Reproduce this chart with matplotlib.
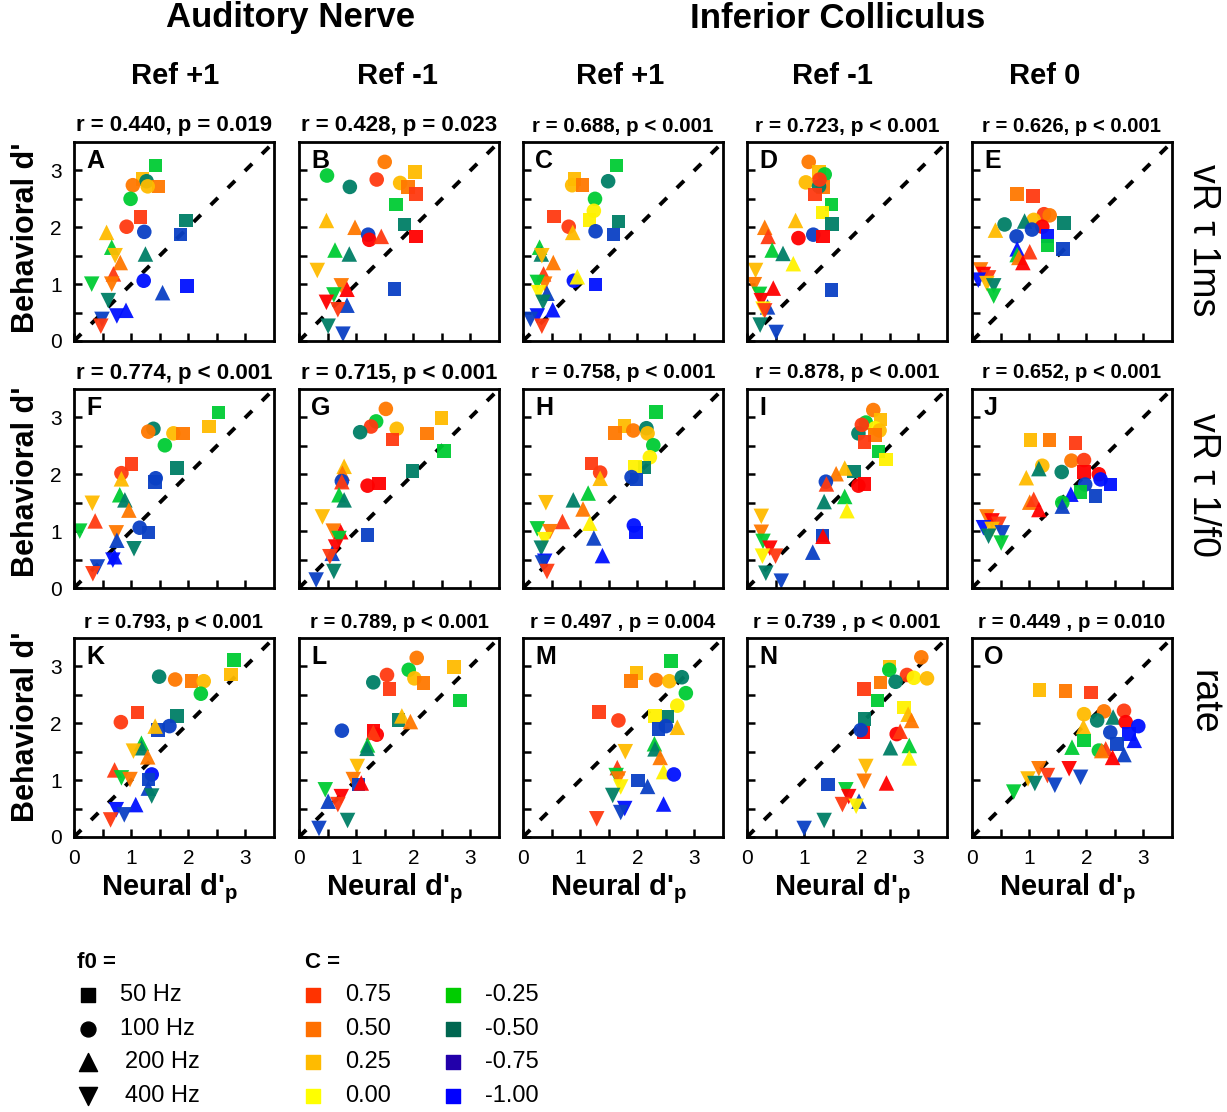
import matplotlib
matplotlib.use("Agg")

import matplotlib.pyplot as plt

plt.rcParams["font.family"] = ["Liberation Sans", "DejaVu Sans"]
plt.rcParams["mathtext.fontset"] = "custom"
plt.rcParams["mathtext.rm"] = "Liberation Sans"
plt.rcParams["mathtext.bf"] = "Liberation Sans:bold"

W, H = 1227, 1112

# colour keys as they appear in the panels
COLORS = {
    "r": "#ff3a10",  # C = 0.75
    "o": "#ff7800",  # 0.50
    "a": "#ffbb00",  # 0.25
    "y": "#fff200",  # 0.00
    "g": "#00cc33",  # -0.25
    "t": "#007f66",  # -0.50
    "d": "#0a40c4",  # -0.75
    "b": "#0010ff",  # -1.00
    "R": "#ff0000",
}
MARKERS = {50: "s", 100: "o", 200: "^", 400: "v"}
SIZES = {50: 95, 100: 110, 200: 125, 400: 125}

F0_LABELS = ["50 Hz", "100 Hz", "200 Hz", "400 Hz"]
C_LABELS = ["0.75", "0.50", "0.25", "0.00", "-0.25", "-0.50", "-0.75", "-1.00"]
C_LEGEND_COLORS = ["#ff3300", "#ff7000", "#ffbb00", "#ffff00",
                   "#00cc00", "#006650", "#2200aa", "#0000ff"]

LETTERS = list("ABCDEFGHIJKLMNO")
STATS = [
    "r = 0.440, p = 0.019", "r = 0.428, p = 0.023", "r = 0.688, p < 0.001",
    "r = 0.723, p < 0.001", "r = 0.626, p < 0.001",
    "r = 0.774, p < 0.001", "r = 0.715, p < 0.001", "r = 0.758, p < 0.001",
    "r = 0.878, p < 0.001", "r = 0.652, p < 0.001",
    "r = 0.793, p < 0.001", "r = 0.789, p < 0.001", "r = 0.497 , p = 0.004",
    "r = 0.739 , p < 0.001", "r = 0.449 , p = 0.010",
]
STAT_SIZES = [16, 16, 14.8, 15, 14.6, 16, 16, 15, 15, 14.6, 14.6, 14.6, 14.7, 14.8, 14.8]
COL_TITLES = ["Ref +1", "Ref -1", "Ref +1", "Ref -1", "Ref 0"]
ROW_TITLES = ["vR \u03c4 1ms", "vR \u03c4 1/f0", "rate"]

# (neural d'p, behavioral d', f0 Hz, colour key)
A_PTS = [(1.43, 3.09, 50, "g"), (1.20, 2.85, 50, "a"), (1.27, 2.81, 100, "t"), (1.48, 2.72, 50, "o"),
         (1.03, 2.74, 100, "o"), (1.29, 2.72, 100, "a"), (0.99, 2.50, 100, "g"), (1.16, 2.18, 50, "r"),
         (0.92, 2.01, 100, "r"), (1.23, 1.92, 100, "d"), (1.96, 2.12, 50, "t"), (1.86, 1.87, 50, "d"),
         (0.57, 1.91, 200, "a"), (0.66, 1.65, 200, "g"), (0.72, 1.50, 400, "a"), (0.81, 1.38, 200, "o"),
         (1.25, 1.53, 200, "t"), (0.69, 1.18, 200, "r"), (0.66, 1.00, 400, "o"), (0.31, 1.00, 400, "g"),
         (1.22, 1.06, 100, "b"), (1.98, 0.97, 50, "b"), (1.55, 0.85, 200, "d"), (0.60, 0.71, 400, "t"),
         (0.75, 0.44, 400, "b"), (0.91, 0.54, 200, "b"), (0.49, 0.38, 400, "d"), (0.47, 0.26, 400, "r")]
B_PTS = [(1.50, 3.15, 100, "o"), (2.03, 2.97, 50, "a"), (0.49, 2.91, 100, "g"), (1.36, 2.84, 100, "r"),
         (1.77, 2.78, 100, "a"), (1.91, 2.71, 50, "o"), (0.89, 2.71, 100, "t"), (2.05, 2.59, 50, "r"),
         (1.70, 2.40, 50, "g"), (1.85, 2.05, 50, "t"), (0.48, 2.12, 200, "a"), (0.98, 2.00, 200, "o"),
         (1.21, 1.87, 100, "d"), (1.23, 1.78, 100, "R"), (1.44, 1.84, 200, "r"), (2.05, 1.84, 50, "R"),
         (0.63, 1.60, 200, "g"), (0.88, 1.53, 200, "t"), (0.32, 1.24, 400, "a"), (0.74, 0.97, 400, "o"),
         (0.84, 0.91, 200, "R"), (1.67, 0.91, 50, "d"), (0.61, 0.81, 400, "g"), (0.48, 0.68, 400, "R"),
         (0.84, 0.63, 200, "d"), (0.68, 0.55, 400, "r"), (0.51, 0.26, 400, "t"), (0.77, 0.12, 400, "d")]
C_PTS = [(1.64, 3.09, 50, "g"), (0.90, 2.85, 50, "a"), (0.86, 2.74, 100, "a"), (1.04, 2.74, 50, "o"),
         (1.49, 2.81, 100, "t"), (1.26, 2.50, 100, "g"), (1.24, 2.29, 100, "y"), (1.16, 2.13, 50, "y"),
         (0.54, 2.19, 50, "r"), (1.67, 2.10, 50, "t"), (0.80, 2.01, 100, "r"), (0.87, 1.91, 200, "a"),
         (1.27, 1.93, 100, "d"), (1.58, 1.87, 50, "d"), (0.29, 1.65, 200, "g"), (0.32, 1.53, 200, "t"),
         (0.33, 1.50, 400, "a"), (0.53, 1.38, 200, "o"), (0.36, 1.18, 200, "r"), (0.38, 1.00, 400, "o"),
         (0.25, 1.03, 400, "g"), (0.89, 1.06, 100, "b"), (0.95, 1.13, 200, "y"), (1.27, 0.99, 50, "b"),
         (0.27, 0.85, 400, "y"), (0.42, 0.84, 200, "d"), (0.35, 0.68, 400, "t"), (0.52, 0.55, 200, "b"),
         (0.25, 0.44, 400, "b"), (0.13, 0.38, 400, "d"), (0.33, 0.26, 400, "r")]
D_PTS = [(1.08, 3.15, 100, "o"), (1.26, 2.97, 50, "a"), (1.36, 2.93, 100, "g"), (1.03, 2.79, 100, "a"),
         (1.33, 2.71, 50, "o"), (1.26, 2.72, 100, "t"), (1.27, 2.84, 100, "r"), (1.19, 2.58, 50, "r"),
         (1.48, 2.40, 50, "g"), (1.32, 2.26, 50, "y"), (1.49, 2.06, 50, "t"), (0.85, 2.12, 200, "a"),
         (0.31, 2.00, 200, "o"), (0.37, 1.84, 200, "r"), (0.90, 1.81, 100, "R"), (1.16, 1.87, 100, "d"),
         (1.33, 1.84, 50, "R"), (0.44, 1.60, 200, "g"), (0.63, 1.54, 200, "t"), (0.81, 1.36, 200, "y"),
         (0.15, 1.24, 400, "a"), (0.13, 0.99, 400, "o"), (0.46, 0.93, 200, "R"), (1.48, 0.90, 50, "d"),
         (0.22, 0.82, 400, "g"), (0.36, 0.60, 200, "d"), (0.25, 0.71, 400, "R"), (0.28, 0.56, 400, "y"),
         (0.31, 0.53, 400, "r"), (0.23, 0.28, 400, "t"), (0.51, 0.15, 400, "d")]
E_PTS = [(0.79, 2.59, 50, "o"), (1.07, 2.55, 50, "r"), (1.26, 2.23, 100, "r"), (1.36, 2.21, 100, "o"),
         (1.08, 2.13, 100, "a"), (0.92, 2.11, 200, "t"), (0.57, 2.05, 100, "t"), (1.61, 2.08, 50, "t"),
         (1.23, 2.01, 100, "R"), (1.05, 1.96, 100, "d"), (0.41, 1.95, 200, "a"), (0.78, 1.84, 100, "d"),
         (1.32, 1.85, 50, "b"), (1.32, 1.68, 50, "g"), (1.59, 1.62, 50, "d"), (0.79, 1.62, 200, "b"),
         (0.79, 1.52, 200, "g"), (1.01, 1.57, 200, "r"), (0.82, 1.47, 200, "o"), (0.89, 1.38, 200, "R"),
         (0.15, 1.25, 400, "o"), (0.20, 1.17, 400, "R"), (0.29, 1.11, 400, "r"), (0.11, 1.07, 400, "b"),
         (0.26, 1.01, 400, "a"), (0.38, 0.97, 400, "t"), (0.38, 0.79, 400, "g")]
F_PTS = [(2.53, 3.09, 50, "g"), (2.36, 2.84, 50, "a"), (1.39, 2.80, 100, "t"), (1.30, 2.75, 100, "o"),
         (1.74, 2.72, 100, "a"), (1.91, 2.72, 50, "o"), (1.59, 2.51, 100, "g"), (1.01, 2.18, 50, "r"),
         (0.83, 2.02, 100, "r"), (1.80, 2.11, 50, "t"), (0.83, 1.92, 200, "a"), (1.43, 1.93, 100, "d"),
         (1.42, 1.86, 50, "d"), (0.80, 1.64, 200, "g"), (0.89, 1.55, 200, "t"), (0.96, 1.37, 200, "o"),
         (0.32, 1.49, 400, "a"), (0.37, 1.18, 200, "r"), (0.10, 1.00, 400, "g"), (1.15, 1.06, 100, "d"),
         (1.30, 0.98, 50, "d"), (0.74, 0.97, 400, "o"), (0.75, 0.84, 200, "d"), (1.05, 0.69, 400, "t"),
         (0.71, 0.55, 200, "b"), (0.68, 0.49, 400, "b"), (0.41, 0.37, 400, "d"), (0.33, 0.25, 400, "r")]
G_PTS = [(1.52, 3.15, 100, "o"), (2.49, 2.99, 50, "a"), (1.35, 2.93, 100, "g"), (1.26, 2.84, 100, "r"),
         (1.07, 2.74, 100, "t"), (1.71, 2.80, 100, "a"), (2.24, 2.72, 50, "o"), (1.64, 2.61, 50, "r"),
         (2.54, 2.41, 50, "g"), (1.99, 2.06, 50, "t"), (0.79, 2.14, 200, "a"), (0.76, 2.02, 200, "o"),
         (0.75, 1.88, 100, "d"), (0.75, 1.87, 200, "r"), (1.20, 1.80, 100, "R"), (1.40, 1.84, 50, "R"),
         (0.70, 1.64, 200, "g"), (0.79, 1.55, 200, "t"), (0.41, 1.25, 400, "a"), (0.60, 1.00, 400, "o"),
         (0.73, 0.99, 200, "R"), (1.20, 0.93, 50, "d"), (0.70, 0.87, 400, "g"), (0.64, 0.72, 400, "R"),
         (0.58, 0.61, 200, "d"), (0.54, 0.55, 400, "r"), (0.61, 0.29, 400, "t"), (0.30, 0.14, 400, "d")]
H_PTS = [(2.33, 3.10, 50, "g"), (1.78, 2.85, 50, "a"), (1.61, 2.73, 50, "o"), (1.93, 2.77, 100, "o"),
         (2.16, 2.81, 100, "t"), (2.18, 2.72, 100, "a"), (2.28, 2.51, 100, "g"), (2.22, 2.30, 100, "y"),
         (2.13, 2.12, 50, "t"), (1.96, 2.13, 50, "y"), (1.20, 2.19, 50, "r"), (1.35, 2.03, 100, "r"),
         (1.35, 1.93, 200, "a"), (1.90, 1.95, 100, "d"), (1.99, 1.91, 50, "d"), (1.14, 1.67, 200, "g"),
         (0.88, 1.55, 200, "t"), (1.05, 1.39, 200, "o"), (0.40, 1.50, 400, "a"), (0.69, 1.17, 200, "r"),
         (1.17, 1.14, 200, "y"), (0.25, 1.04, 400, "g"), (0.47, 0.99, 400, "o"), (1.94, 1.10, 100, "b"),
         (1.98, 0.98, 50, "b"), (0.38, 0.85, 400, "y"), (1.24, 0.88, 200, "d"), (0.32, 0.70, 400, "t"),
         (1.39, 0.57, 200, "b"), (0.38, 0.47, 400, "b"), (0.34, 0.44, 400, "d"), (0.42, 0.29, 400, "r")]
I_PTS = [(2.21, 3.13, 100, "o"), (2.34, 2.96, 50, "a"), (2.08, 2.91, 100, "g"), (2.24, 2.81, 100, "y"),
         (2.32, 2.77, 100, "a"), (1.95, 2.72, 100, "t"), (2.24, 2.69, 50, "o"), (2.01, 2.87, 100, "r"),
         (2.06, 2.57, 50, "r"), (2.30, 2.40, 50, "g"), (2.43, 2.26, 50, "y"), (1.87, 2.05, 50, "t"),
         (1.71, 2.11, 200, "a"), (1.56, 2.01, 200, "o"), (1.38, 1.87, 100, "d"), (1.39, 1.83, 200, "r"),
         (1.95, 1.80, 100, "R"), (2.06, 1.83, 50, "R"), (1.71, 1.61, 200, "g"), (1.35, 1.52, 200, "t"),
         (1.75, 1.36, 200, "y"), (0.25, 1.26, 400, "a"), (0.25, 0.98, 400, "o"), (1.32, 0.92, 50, "d"),
         (1.33, 0.91, 200, "R"), (0.28, 0.82, 400, "g"), (0.40, 0.70, 400, "R"), (0.50, 0.56, 400, "r"),
         (0.27, 0.56, 400, "y"), (1.15, 0.63, 200, "d"), (0.33, 0.26, 400, "t"), (0.60, 0.12, 400, "d")]
J_PTS = [(1.02, 2.60, 50, "a"), (1.36, 2.60, 50, "o"), (1.81, 2.55, 50, "r"), (1.74, 2.24, 100, "o"),
         (1.96, 2.25, 100, "r"), (1.23, 2.15, 100, "a"), (1.17, 2.10, 200, "t"), (1.57, 2.04, 100, "t"),
         (1.96, 2.04, 50, "R"), (2.22, 2.00, 100, "R"), (0.95, 1.94, 200, "a"), (2.25, 1.91, 100, "b"),
         (1.98, 1.82, 100, "d"), (2.42, 1.82, 50, "b"), (1.90, 1.69, 50, "g"), (1.73, 1.65, 200, "b"),
         (2.16, 1.62, 50, "d"), (1.58, 1.50, 100, "g"), (1.58, 1.44, 200, "d"), (1.01, 1.51, 200, "o"),
         (1.08, 1.56, 200, "r"), (1.17, 1.38, 200, "R"), (0.26, 1.25, 400, "o"), (0.35, 1.18, 400, "R"),
         (0.47, 1.12, 400, "r"), (0.20, 1.06, 400, "b"), (0.35, 1.03, 400, "a"), (0.29, 0.91, 400, "t"),
         (0.53, 0.97, 400, "d"), (0.51, 0.79, 400, "g")]
K_PTS = [(2.80, 3.11, 50, "g"), (2.75, 2.86, 50, "a"), (1.49, 2.82, 100, "t"), (1.77, 2.77, 100, "o"),
         (2.06, 2.74, 50, "o"), (2.27, 2.74, 100, "a"), (2.22, 2.52, 100, "g"), (1.11, 2.19, 50, "r"),
         (1.80, 2.13, 50, "t"), (0.82, 2.02, 100, "r"), (1.67, 1.95, 100, "d"), (1.47, 1.88, 50, "d"),
         (1.42, 1.95, 200, "a"), (1.18, 1.65, 200, "g"), (1.18, 1.57, 200, "t"), (1.04, 1.51, 400, "a"),
         (1.29, 1.41, 200, "o"), (0.71, 1.18, 200, "r"), (0.83, 1.04, 400, "g"), (0.98, 1.01, 400, "o"),
         (1.36, 1.10, 100, "b"), (1.30, 1.01, 50, "d"), (1.30, 0.86, 200, "d"), (1.36, 0.72, 400, "t"),
         (1.08, 0.57, 200, "b"), (0.74, 0.48, 400, "b"), (0.88, 0.39, 400, "d"), (0.64, 0.30, 400, "r")]
L_PTS = [(2.06, 3.15, 100, "o"), (2.71, 2.99, 50, "a"), (1.92, 2.94, 100, "g"), (1.54, 2.85, 100, "r"),
         (2.02, 2.79, 100, "a"), (1.30, 2.72, 100, "t"), (2.18, 2.71, 50, "o"), (1.58, 2.60, 50, "r"),
         (2.82, 2.40, 50, "g"), (1.74, 2.06, 50, "t"), (1.80, 2.13, 200, "a"), (1.95, 2.03, 200, "o"),
         (0.75, 1.87, 100, "d"), (1.30, 1.87, 50, "R"), (1.36, 1.80, 100, "R"), (1.30, 1.84, 200, "r"),
         (1.20, 1.62, 200, "g"), (1.19, 1.56, 200, "t"), (1.02, 1.24, 400, "a"), (0.95, 1.01, 400, "o"),
         (1.04, 0.92, 50, "d"), (1.09, 0.95, 200, "R"), (0.46, 0.83, 400, "g"), (0.74, 0.71, 400, "R"),
         (0.51, 0.63, 200, "d"), (0.68, 0.57, 400, "r"), (0.85, 0.29, 400, "t"), (0.35, 0.15, 400, "d")]
M_PTS = [(2.59, 3.10, 50, "g"), (1.99, 2.88, 50, "a"), (1.89, 2.74, 50, "o"), (2.33, 2.76, 100, "o"),
         (2.56, 2.74, 100, "a"), (2.78, 2.81, 100, "t"), (2.85, 2.53, 100, "g"), (2.70, 2.31, 100, "y"),
         (2.53, 2.12, 50, "t"), (2.31, 2.13, 50, "y"), (1.33, 2.20, 50, "r"), (1.67, 2.05, 100, "r"),
         (2.37, 1.90, 50, "d"), (2.50, 1.95, 100, "d"), (2.70, 1.93, 200, "a"), (2.30, 1.64, 200, "g"),
         (2.31, 1.55, 200, "t"), (2.40, 1.40, 200, "o"), (1.79, 1.50, 400, "a"), (1.65, 1.22, 200, "r"),
         (2.46, 1.15, 200, "y"), (2.64, 1.10, 100, "b"), (1.63, 1.08, 400, "g"), (1.67, 1.02, 400, "o"),
         (2.01, 0.99, 50, "d"), (1.71, 0.88, 400, "y"), (2.18, 0.89, 200, "d"), (1.57, 0.73, 400, "t"),
         (2.46, 0.58, 200, "b"), (1.78, 0.50, 400, "b"), (1.71, 0.43, 400, "d"), (1.29, 0.32, 400, "r")]
N_PTS = [(3.05, 3.16, 100, "o"), (2.49, 3.00, 50, "a"), (2.49, 2.94, 100, "g"), (2.80, 2.85, 100, "r"),
         (2.92, 2.80, 100, "y"), (3.15, 2.79, 100, "a"), (2.60, 2.73, 100, "t"), (2.34, 2.72, 50, "o"),
         (2.05, 2.60, 50, "r"), (2.28, 2.40, 50, "g"), (2.75, 2.28, 50, "y"), (2.82, 2.16, 200, "a"),
         (2.88, 2.05, 200, "o"), (2.06, 2.08, 50, "t"), (2.04, 1.84, 50, "R"), (1.99, 1.88, 100, "d"),
         (2.62, 1.81, 100, "R"), (2.68, 1.86, 200, "r"), (2.51, 1.57, 200, "t"), (2.84, 1.61, 200, "g"),
         (2.84, 1.39, 200, "y"), (2.08, 1.24, 400, "a"), (2.05, 0.98, 400, "o"), (2.44, 0.95, 200, "R"),
         (1.42, 0.92, 50, "d"), (1.73, 0.83, 400, "g"), (1.78, 0.71, 400, "R"), (1.96, 0.63, 200, "d"),
         (1.67, 0.57, 400, "r"), (1.91, 0.54, 400, "y"), (1.35, 0.29, 400, "t"), (1.00, 0.15, 400, "d")]
O_PTS = [(1.18, 2.59, 50, "a"), (1.64, 2.57, 50, "o"), (2.08, 2.54, 50, "r"), (1.96, 2.16, 100, "a"),
         (2.31, 2.21, 100, "o"), (2.66, 2.22, 100, "r"), (2.19, 2.05, 100, "t"), (2.47, 2.11, 200, "t"),
         (2.69, 2.02, 100, "R"), (2.91, 1.95, 100, "b"), (1.95, 1.94, 200, "a"), (2.42, 1.84, 100, "d"),
         (2.75, 1.81, 50, "b"), (2.54, 1.64, 50, "d"), (2.84, 1.70, 200, "b"), (1.96, 1.70, 50, "g"),
         (1.75, 1.58, 200, "g"), (2.22, 1.52, 100, "g"), (2.34, 1.55, 200, "r"), (2.27, 1.52, 200, "o"),
         (2.66, 1.45, 200, "d"), (2.46, 1.40, 200, "R"), (1.17, 1.20, 400, "o"), (1.70, 1.20, 400, "R"),
         (1.32, 1.08, 400, "r"), (1.90, 1.05, 400, "d"), (0.98, 1.02, 400, "a"), (1.10, 0.94, 400, "t"),
         (1.45, 0.91, 400, "d"), (0.73, 0.79, 400, "g")]

PANELS = [A_PTS, B_PTS, C_PTS, D_PTS, E_PTS, F_PTS, G_PTS, H_PTS,
          I_PTS, J_PTS, K_PTS, L_PTS, M_PTS, N_PTS, O_PTS]

# layout in pixels
COL_LEFT = [74, 299, 523, 747, 972]
ROW_TOP = [142, 389, 638]
PW, PH = 200, 199

fig = plt.figure(figsize=(W / 100, H / 100), dpi=100)
over = fig.add_axes([0, 0, 1, 1], zorder=-1)
over.set_xlim(0, W)
over.set_ylim(H, 0)
over.axis("off")

for i, pts in enumerate(PANELS):
    row, col = divmod(i, 5)
    left, top = COL_LEFT[col], ROW_TOP[row]
    ax = fig.add_axes([left / W, 1 - (top + PH) / H, PW / W, PH / H])
    ax.plot([0, 3.5], [0, 3.5], color="black", lw=2.8, dashes=(2.6, 3.6), zorder=1)
    for x, y, f0, c in pts:
        ax.scatter(x, y, s=SIZES[f0], marker=MARKERS[f0], color=COLORS[c],
                   edgecolors="none", alpha=0.95, zorder=2)
    ax.set_xlim(0, 3.5)
    ax.set_ylim(0, 3.5)
    ticks = [0, 0.5, 1, 1.5, 2, 2.5, 3]
    ax.set_xticks(ticks)
    ax.set_yticks([0, 1, 2, 3] if i == 14 else ticks)
    ax.set_xticklabels(["0", "", "1", "", "2", "", "3"] if row == 2 else [])
    if col == 0:
        ax.set_yticklabels(["0", "", "1", "", "2", "", "3"])
    else:
        ax.set_yticklabels([])
    ax.tick_params(direction="in", length=6, width=1.8, labelsize=15, pad=9)
    for sp in ax.spines.values():
        sp.set_linewidth(2.0)
    ax.text(0.06, 0.965, LETTERS[i], transform=ax.transAxes, ha="left", va="top",
            fontsize=18, fontweight="bold")
    over.text(left + PW / 2, top - 16, STATS[i], ha="center", va="center",
              fontsize=STAT_SIZES[i], fontweight="bold")
    if row == 2:
        over.text(left + PW / 2 - 4, 889, r"Neural d'$_{\mathbf{p}}$", ha="center",
                  va="center", fontsize=21, fontweight="bold")

# headings
over.text(291, 18, "Auditory Nerve", ha="center", va="center", fontsize=25, fontweight="bold")
over.text(838, 18, "Inferior Colliculus", ha="center", va="center", fontsize=25, fontweight="bold")
for xc, t in zip([175, 397, 620, 832, 1045], COL_TITLES):
    over.text(xc, 76, t, ha="center", va="center", fontsize=21, fontweight="bold")
for yc, t in zip([240, 485, 702], ROW_TITLES):
    over.text(1203, yc, t, ha="center", va="center", rotation=270, fontsize=27)
for yc in [238, 482, 727]:
    over.text(26, yc, "Behavioral d'", ha="center", va="center", rotation=90,
              fontsize=22, fontweight="bold")

# legend
over.text(77, 962, "f0 =", ha="left", va="center", fontsize=16, fontweight="bold")
for k, (f0, lab) in enumerate(zip([50, 100, 200, 400], F0_LABELS)):
    yy = 995 + k * 33.7
    over.scatter(88, yy, s=170 if f0 >= 200 else 115, marker=MARKERS[f0], color="black")
    over.text(120 if f0 < 200 else 125, yy, lab, ha="left", va="center", fontsize=17)
over.text(305, 962, "C =", ha="left", va="center", fontsize=16, fontweight="bold")
for k, (lab, colr) in enumerate(zip(C_LABELS, C_LEGEND_COLORS)):
    cx = 313 if k < 4 else 453
    yy = 995 + (k % 4) * 33.7
    over.scatter(cx, yy, s=110, marker="s", color=colr)
    over.text(cx + 32, yy, lab, ha="left", va="center", fontsize=17)

fig.savefig("out.png", dpi=100)
